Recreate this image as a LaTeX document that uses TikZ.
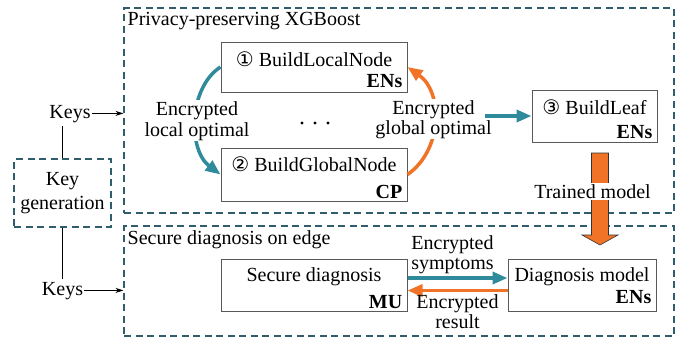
\documentclass[tikz,border=0pt]{standalone}
\usepackage{fontspec}
\setmainfont{Liberation Serif}
\newfontfamily\circfont{DejaVu Sans}
\usetikzlibrary{arrows.meta}
\definecolor{zoneline}{HTML}{2F5D6B}
\definecolor{boxline}{HTML}{595959}
\definecolor{tealarr}{HTML}{2F8A9B}
\definecolor{orangearr}{HTML}{F07328}

\begin{document}
\begin{tikzpicture}[x=1pt,y=-1pt,
  zone/.style={draw=zoneline,line width=1.1pt,dash pattern=on 7pt off 4.5pt,inner sep=0},
  box/.style={draw=boxline,line width=1pt,inner sep=0,minimum height=52pt},
  title/.style={anchor=base,inner sep=0},
  tag/.style={anchor=base east,inner sep=0,font=\bfseries},
  txt/.style={inner sep=0,align=center},
  keytxt/.style={inner xsep=1pt,inner ysep=3pt},
  tealline/.style={draw=tealarr,line width=3.5pt,-{Triangle[length=15pt,width=12pt]}},
  orangeline/.style={draw=orangearr,line width=3.5pt,-{Triangle[length=15pt,width=12pt]}},
  keyline/.style={line width=0.9pt,-{Stealth[length=8pt,width=5pt]}}]

  \fontsize{20}{21}\selectfont
  \useasboundingbox (0,0) rectangle (680,341);

  %% zones
  \node[zone,minimum width=550pt,minimum height=205pt] (xgb) at (399,110.5) {};
  \node[zone,minimum width=550pt,minimum height=110pt] (edge) at (399,281) {};
  \node[anchor=base west,inner sep=0] (xgbname) at ([shift={(4pt,-18.5pt)}]xgb.north west) {Privacy-preserving XGBoost};
  \node[anchor=base west,inner sep=0] (edgename) at ([shift={(4pt,-19pt)}]edge.north west) {Secure diagnosis on edge};

  %% key generation
  \node[zone,minimum width=97pt,minimum height=68pt,align=center] (keygen) at (62.5,193) {Key\\[3pt]generation};
  \node[keytxt,anchor=base] (keys1) at (70,118) {Keys};
  \node[keytxt,anchor=base] (keys2) at (62.5,295) {Keys};
  \draw[line width=0.9pt] (keygen.north) -- (keygen.north |- keys1.south);
  \draw[line width=0.9pt] (keygen.south) -- (keygen.south |- keys2.north);
  \draw[keyline] (keys1.mid east) -- (keys1.mid east -| xgb.west);
  \draw[keyline] (keys2.mid east) -- (keys2.mid east -| edge.west);

  %% tree building
  \node[box,minimum width=186pt,minimum height=50pt] (local) at (314,67) {};
  \node[title] (localname) at ([yshift=-25pt]local.north) {{\circfont ①} BuildLocalNode};
  \node[tag] (localtag) at ([shift={(-5pt,4.7pt)}]local.south east) {ENs};

  \node[box,minimum width=186pt,minimum height=53pt] (glob) at (314,174.5) {};
  \node[title] (globname) at ([yshift=-24pt]glob.north) {{\circfont ②} BuildGlobalNode};
  \node[tag] (globtag) at ([shift={(-5pt,3pt)}]glob.south east) {CP};

  \node[box,minimum width=125pt] (leaf) at (594.5,116) {};
  \node[title] (leafname) at ([yshift=-25pt]leaf.north) {{\circfont ③} BuildLeaf};
  \node[tag] (leaftag) at ([shift={(-5pt,3.7pt)}]leaf.south east) {ENs};

  \foreach \x in {302,315,328} \fill (\x,123) circle (1.6pt);

  %% exchanges while building
  \draw[tealline] (local.west) .. controls (188,88) and (188,150) .. (glob.west);
  \node[txt,fill=white,inner sep=1pt] (localopt) at (197,120.8) {Encrypted\\local optimal};
  \draw[orangeline] (glob.east) .. controls (443,150) and (443,92) .. (local.east);
  \node[txt,fill=white,inner sep=1pt] (globalopt) at (433.5,119.3) {Encrypted\\[-1pt]global optimal};
  \coordinate (gstart) at (485,116);
  \draw[tealline] (gstart) -- (leaf.west);

  %% trained model goes to the edge
  \draw[draw=black!80,line width=0.6pt,fill=orangearr] (591.5,153) -- (608.5,153) -- (608.5,235)
    -- (618,235) -- (600,245) -- (582,235) -- (591.5,235) -- cycle;
  \node[anchor=base,fill=white,inner sep=1.5pt] (trained) at (592.5,198.3) {Trained model};

  %% diagnosis
  \node[box,minimum width=186pt] (sec) at (314,285) {};
  \node[title] (secname) at ([yshift=-22.7pt]sec.north) {Secure diagnosis};
  \node[tag] (sectag) at ([shift={(-5pt,2.7pt)}]sec.south east) {MU};

  \node[box,minimum width=148pt] (model) at (582,285) {};
  \node[title] (modelname) at ([yshift=-22.7pt]model.north) {Diagnosis model};
  \node[tag] (modeltag) at ([shift={(-5pt,7.7pt)}]model.south east) {ENs};

  \draw[tealline] ([yshift=7pt]sec.east) -- ([yshift=7pt]model.west);
  \draw[orangeline] ([yshift=-5.5pt]model.west) -- ([yshift=-5.5pt]sec.east);
  \node[txt] (symp) at (452.5,254.3) {Encrypted\\[-1pt]symptoms};
  \node[txt] (res) at (457.5,311.2) {Encrypted\\[-1pt]result};

\end{tikzpicture}
\end{document}
